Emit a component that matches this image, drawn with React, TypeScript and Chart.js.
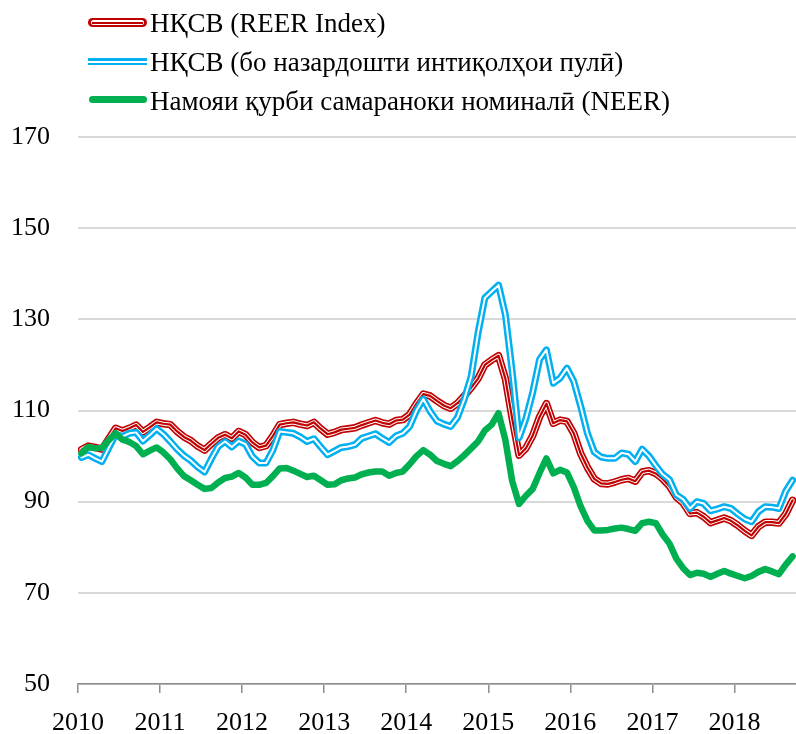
import React, { useEffect, useRef } from "react";
import { Chart, registerables } from "chart.js";

Chart.register(...registerables);

// Monthly data, Jan 2010 – Sep 2018
const years = [2010, 2011, 2012, 2013, 2014, 2015, 2016, 2017, 2018];
const monthsPerYear = 12;

const seriesNames = [
  "НҚСВ (REER Index)",
  "НҚСВ (бо назардошти интиқолҳои пулӣ)",
  "Намояи қурби самараноки номиналӣ (NEER)",
];

const reer = [
  101.4, 102.2, 101.9, 101.5, 103.8, 106.1, 105.5, 106.1, 106.8, 105.3,
  106.3, 107.4, 107.1, 106.9, 105.4, 104.2, 103.4, 102.2, 101.3, 102.7,
  104, 104.7, 103.9, 105.4, 104.7, 103, 101.9, 102.3, 104.4, 106.9,
  107.2, 107.4, 107, 106.7, 107.4, 106, 104.8, 105.2, 105.8, 106,
  106.2, 106.8, 107.3, 107.8, 107.3, 107, 107.8, 108, 109.1, 111.5,
  113.6, 113.2, 112.1, 111.1, 110.5, 111.6, 113.2, 115, 117, 120,
  121.1, 122, 117, 108.2, 100.2, 101.7, 104.5, 108.6, 111.5, 107.2,
  107.9, 107.6, 105, 100.6, 97.5, 95, 94, 93.9, 94.3, 94.8,
  95.1, 94.5, 96.5, 96.8, 96.2, 95, 93.4, 91, 89.7, 87.4,
  87.6, 86.7, 85.4, 85.9, 86.4, 85.8, 84.8, 83.6, 82.6, 84.5,
  85.5, 85.5, 85.3, 87.3, 90.3,
];

const reerRemit = [
  99.7, 100.3, 99.5, 98.8, 101.8, 104.7, 104.3, 105, 105.2, 103.3,
  104.6, 106, 104.8, 103.2, 101.5, 100.1, 99, 97.6, 96.5, 99.4,
  102.1, 103.2, 102, 103.3, 102.6, 99.9, 98.5, 98.5, 101.3, 105.4,
  105.2, 105, 104.2, 103.2, 103.8, 102, 100.3, 101.1, 101.9, 102.1,
  102.5, 103.9, 104.4, 104.9, 103.9, 103, 104.4, 105, 106.5, 110,
  112.5, 109.8, 107.7, 107, 106.5, 108.5, 112.5, 117.5, 127, 134.7,
  136.1, 137.5, 131, 118.5, 104, 108.2, 114, 121.2, 123.3, 116,
  117.1, 119.3, 116.4, 111, 105, 100.9, 99.8, 99.5, 99.5, 100.7,
  100.4, 98.8, 101.5, 100, 97.9, 96, 94.8, 91.5, 90.5, 88.5,
  90, 89.6, 88, 88.4, 88.9, 88.5, 87.3, 86.2, 85.6, 87.8,
  88.9, 88.8, 88.5, 92.3, 94.7,
];

const neer = [
  100.6, 102, 101.7, 101.8, 103.5, 105, 103.6, 103.1, 102.2, 100.4,
  101.2, 101.9, 100.8, 99.3, 97.3, 95.6, 94.7, 93.7, 92.8, 93,
  94.2, 95.2, 95.5, 96.3, 95.3, 93.7, 93.7, 94.1, 95.6, 97.3,
  97.4, 96.8, 96.1, 95.4, 95.7, 94.7, 93.7, 93.8, 94.7, 95.1,
  95.3, 96, 96.4, 96.6, 96.6, 95.7, 96.3, 96.6, 98.2, 100,
  101.3, 100.3, 98.9, 98.3, 97.8, 98.9, 100.2, 101.7, 103.2, 105.6,
  106.9, 109.4, 103.5, 94.5, 89.5, 91.3, 92.8, 96.3, 99.5, 96.2,
  97, 96.4, 93.2, 89, 85.8, 83.7, 83.7, 83.8, 84.1, 84.3,
  84, 83.6, 85.3, 85.6, 85.3, 82.8, 80.8, 77.5, 75.4, 73.9,
  74.4, 74.2, 73.5, 74.2, 74.8, 74.2, 73.7, 73.2, 73.7, 74.6,
  75.2, 74.7, 74.1, 76.2, 78,
];

const yTicks = [50, 70, 90, 110, 130, 150, 170];

const RED = "#C00000";
const BLUE = "#00B0F0";
const GREEN = "#00B050";
const FONT = "'Liberation Serif', 'Times New Roman', serif";

const toPoints = (arr: number[]) => arr.map((v, i) => ({ x: i + 0.5, y: v }));

const lineDs = (data: number[], color: string, width: number, order: number) => ({
  data: toPoints(data),
  borderColor: color,
  borderWidth: width,
  pointRadius: 0,
  pointHoverRadius: 0,
  tension: 0,
  fill: false,
  borderJoinStyle: "round" as const,
  borderCapStyle: "round" as const,
  order,
});

function LegendSample({ kind }: { kind: number }) {
  if (kind === 0) {
    return (
      <div style={{ position: "absolute", left: 88, top: 14, width: 59, height: 9, background: RED, borderRadius: 4.5 }}>
        <div style={{ position: "absolute", left: 3, top: 2, width: 53, height: 5, background: "#fff", borderRadius: 2.5 }}>
          <div style={{ position: "absolute", left: 1, top: 1.5, width: 51, height: 2, background: RED }} />
        </div>
      </div>
    );
  }
  if (kind === 1) {
    return (
      <div style={{ position: "absolute", left: 88, top: 15, width: 59, height: 7, background: BLUE }}>
        <div style={{ position: "absolute", left: 0, top: 2.5, width: 59, height: 2, background: "#fff" }} />
      </div>
    );
  }
  return (
    <div style={{ position: "absolute", left: 89, top: 14, width: 58, height: 7, background: GREEN, borderRadius: 3.5 }} />
  );
}

export default function App() {
  const canvasRef = useRef<HTMLCanvasElement | null>(null);

  useEffect(() => {
    const prevMargin = document.body.style.margin;
    document.body.style.margin = "0";
    const ctx = canvasRef.current!.getContext("2d")!;
    const chart = new Chart(ctx, {
      type: "line",
      data: {
        datasets: [
          lineDs(neer, GREEN, 6.5, 0),
          lineDs(reerRemit, "#ffffff", 2, 1),
          lineDs(reerRemit, BLUE, 7, 2),
          lineDs(reer, RED, 2.2, 3),
          lineDs(reer, "#ffffff", 4.2, 4),
          lineDs(reer, RED, 7.5, 5),
        ],
      },
      options: {
        animation: false,
        responsive: false,
        devicePixelRatio: 1,
        events: [],
        layout: { padding: { top: 137, right: 0, left: 0, bottom: 0 } },
        plugins: {
          legend: { display: false },
          tooltip: { enabled: false },
        },
        scales: {
          x: {
            type: "linear",
            min: 0,
            max: years.length * monthsPerYear - 3,
            afterBuildTicks: (scale: any) => {
              scale.ticks = years.map((y, i) => ({ value: i * monthsPerYear }));
            },
            afterFit: (scale: any) => {
              scale.height = 50;
            },
            ticks: {
              autoSkip: false,
              maxRotation: 0,
              padding: 15,
              color: "#000",
              font: { family: FONT, size: 26 },
              callback: (v: any) => String(years[0] + Math.round(Number(v) / monthsPerYear)),
            },
            grid: {
              drawOnChartArea: false,
              drawTicks: true,
              tickLength: 9,
              color: "#8c8c8c",
              lineWidth: 1.5,
            },
            border: { display: true, color: "#8c8c8c", width: 1.5 },
          },
          y: {
            type: "linear",
            min: yTicks[0],
            max: yTicks[yTicks.length - 1],
            afterBuildTicks: (scale: any) => {
              scale.ticks = yTicks.map((v) => ({ value: v }));
            },
            afterFit: (scale: any) => {
              scale.width = 78;
            },
            ticks: {
              padding: 28,
              color: "#000",
              font: { family: FONT, size: 26 },
            },
            grid: {
              drawTicks: false,
              color: "#d9d9d9",
              lineWidth: 2,
            },
            border: { display: false },
          },
        },
      },
    });
    return () => {
      chart.destroy();
      document.body.style.margin = prevMargin;
    };
  }, []);

  const rowTops = [4, 43, 82];

  return (
    <div style={{ position: "fixed", left: 0, top: 0, width: 796, height: 734, background: "#fff" }}>
      <canvas ref={canvasRef} width={796} height={734} style={{ position: "absolute", left: 0, top: 0, width: 796, height: 734 }} />
      {seriesNames.map((name, i) => (
        <div key={name} style={{ position: "absolute", left: 0, top: rowTops[i], width: 796, height: 39 }}>
          <LegendSample kind={i} />
          <span
            style={{
              position: "absolute",
              left: 150,
              top: 0,
              fontFamily: FONT,
              fontSize: 27,
              lineHeight: "39px",
              color: "#000",
              whiteSpace: "nowrap",
            }}
          >
            {name}
          </span>
        </div>
      ))}
    </div>
  );
}
